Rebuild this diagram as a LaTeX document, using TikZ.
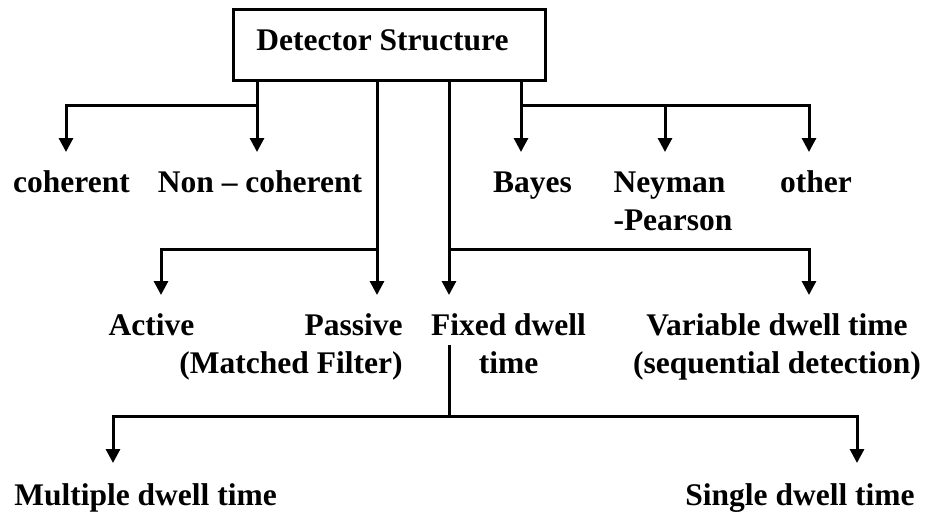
\documentclass[tikz,border=0pt]{standalone}
\usepackage{fontspec}
\setmainfont{Liberation Serif}
\usetikzlibrary{arrows.meta}
\begin{document}
\begin{tikzpicture}[x=1pt,y=-1pt,line width=3pt,
  lbl/.style={inner sep=0pt,font=\fontsize{31.5}{38}\selectfont\bfseries},
  rootbox/.style={draw,line width=3pt,minimum width=312pt,minimum height=71pt,inner sep=0pt,
    text height=21pt,text depth=10pt,font=\fontsize{31.5}{38}\selectfont\bfseries},
  arr/.style={-{Triangle[width=14pt,length=14pt]}},
  conn/.style={line join=miter}]
\useasboundingbox (0,0) rectangle (933,514);

% root
\node[rootbox] (root) at (389,44.5) {Detector Structure\hspace*{13pt}};

% labels
\node[lbl,anchor=base] (coh) at (71.5,192) {coherent};
\node[lbl,anchor=base] (ncoh) at (260,192) {Non – coherent};
\node[lbl,anchor=base] (bay) at (532.5,192) {Bayes};
\node[lbl,anchor=base west] (ney) at (612,192) {\begin{tabular}[t]{@{}l@{}}Neyman\\-Pearson\end{tabular}};
\node[lbl,anchor=base] (oth) at (816,192) {other};
\node[lbl,anchor=base] (act) at (151.5,335) {Active};
\node[lbl,anchor=base east] (pas) at (404,335) {\begin{tabular}[t]{@{}r@{}}Passive\\(Matched Filter)\end{tabular}};
\node[lbl,anchor=base] (fix) at (508.5,335) {\begin{tabular}[t]{@{}c@{}}Fixed dwell\\time\end{tabular}};
\node[lbl,anchor=base] (var) at (777,335) {\begin{tabular}[t]{@{}c@{}}Variable dwell time\\(sequential detection)\end{tabular}};
\node[lbl,anchor=base] (mul) at (145.5,505) {Multiple dwell time};
\node[lbl,anchor=base] (sin) at (800,505) {Single dwell time};

% junctions and arrow tips
\coordinate (h1) at (257,105);
\coordinate (tc) at (66,152);
\coordinate (tn) at (257,152);
\coordinate (h2) at (377,249);
\coordinate (ta) at (161,295);
\coordinate (tp) at (377,295);
\coordinate (h3) at (449,249);
\coordinate (tf) at (449,295);
\coordinate (tv) at (809,295);
\coordinate (h4) at (521,105);
\coordinate (tb) at (521,152);
\coordinate (tny) at (665,152);
\coordinate (to) at (809,152);
\coordinate (fs) at (449,345);
\coordinate (h5) at (449,416);
\coordinate (tm) at (113,463);
\coordinate (ts) at (857,463);

% connectors
\draw[conn,arr] (root.south -| h1) -- (tn);
\draw[conn,arr] (h1) -| (tc);
\draw[conn,arr] (root.south -| h2) -- (tp);
\draw[conn,arr] (h2) -| (ta);
\draw[conn,arr] (root.south -| h3) -- (tf);
\draw[conn,arr] (h3) -| (tv);
\draw[conn,arr] (root.south -| h4) -- (tb);
\draw[conn,arr] (h4) -| (to);
\draw[conn,arr] (tny |- h4) -- (tny);
\draw[conn] (fs) -- (h5);
\draw[conn,arr] (h5) -| (tm);
\draw[conn,arr] (h5) -| (ts);
\end{tikzpicture}
\end{document}
